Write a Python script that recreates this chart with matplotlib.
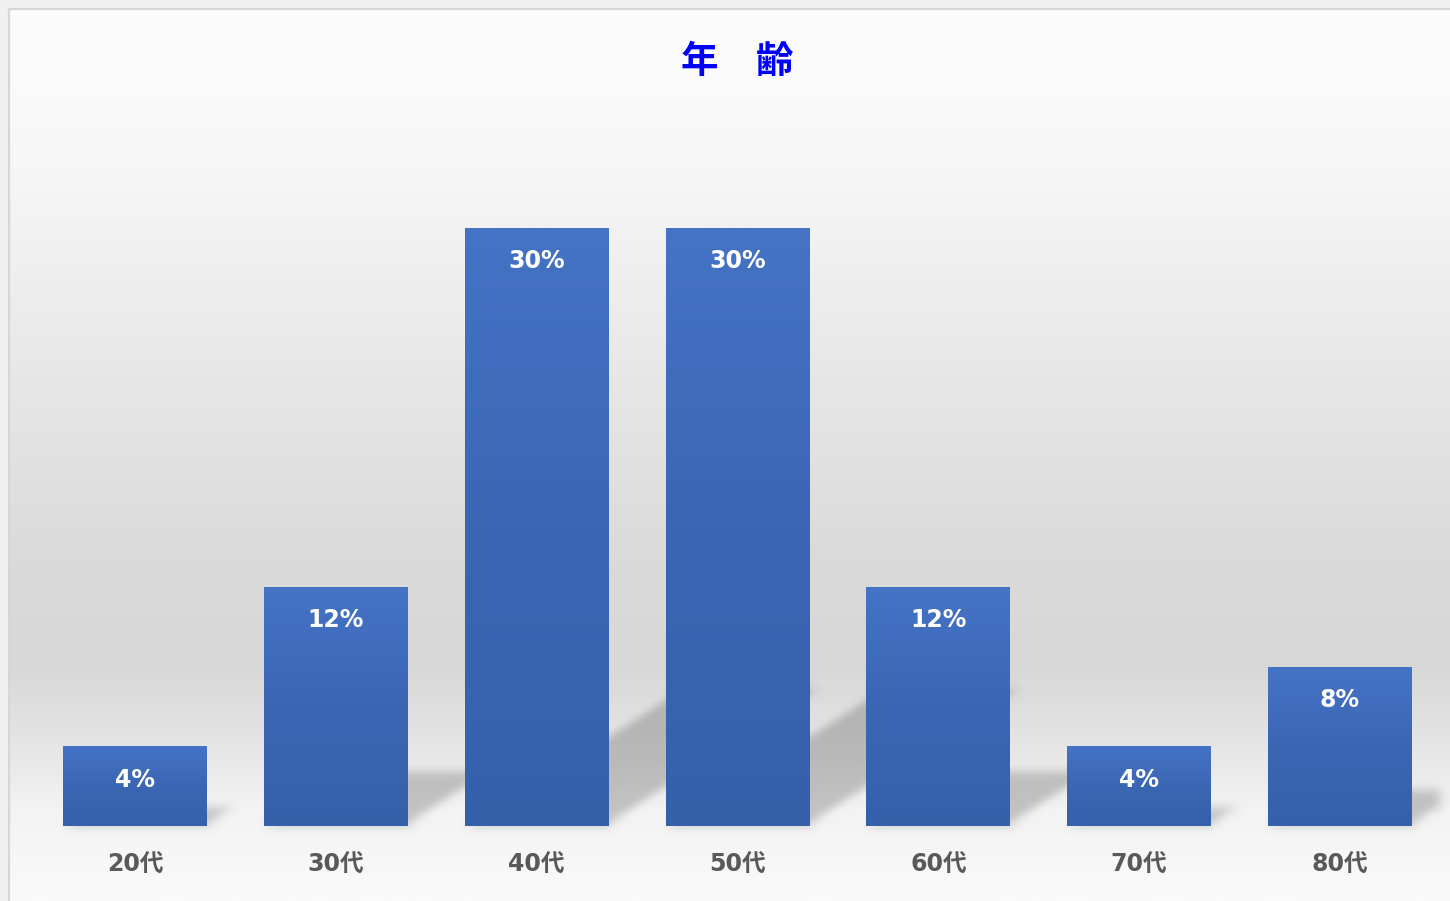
import numpy as np
import matplotlib
matplotlib.use("Agg")
import matplotlib.pyplot as plt
from matplotlib.patches import Polygon
from matplotlib.colors import LinearSegmentedColormap

plt.rcParams['font.family'] = ['Noto Sans CJK JP', 'DejaVu Sans']

# ---- data ----
categories = ['20代', '30代', '40代', '50代', '60代', '70代', '80代']
values = [4, 12, 30, 30, 12, 4, 8]
value_labels = ['4%', '12%', '30%', '30%', '12%', '4%', '8%']
title = '年　齢'

W, H = 1450, 901
fig = plt.figure(figsize=(W / 100, H / 100), dpi=100)
fig.patch.set_facecolor('#f0f0f0')

# chart-area background with vertical gradient
bg = fig.add_axes([9 / W, 0, 1 - 9 / W, (H - 9) / H], zorder=0)
bg.set_axis_off()
stops = [(0.0, '#fcfcfc'), (0.07, '#fbfbfb'), (0.2, '#f5f5f5'), (0.38, '#e9e9e9'),
         (0.62, '#dadada'), (0.74, '#d8d8d8'), (0.82, '#e4e4e4'), (0.9, '#f3f3f3'),
         (1.0, '#fafafa')]
bg_cmap = LinearSegmentedColormap.from_list('bg', stops)
grad = np.linspace(0, 1, 512).reshape(-1, 1)
bg.imshow(grad, cmap=bg_cmap, aspect='auto', extent=(0, 1, 1, 0), interpolation='bicubic')
bg.set_xlim(0, 1)
bg.set_ylim(1, 0)
# border of chart area
fig.add_artist(plt.Line2D([8.5 / W, 8.5 / W], [0, (H - 8.5) / H], color='#d6d6d6', lw=1.6))
fig.add_artist(plt.Line2D([8.5 / W, 1], [(H - 8.5) / H, (H - 8.5) / H], color='#d6d6d6', lw=1.6))

# main axes
left_px, right_px, base_px = 34.6, 1440.4, 826
ymax = 35
px_per_unit = 598 / 30
top_px = base_px - ymax * px_per_unit
ax = fig.add_axes([left_px / W, (H - base_px) / H, (right_px - left_px) / W,
                   (base_px - top_px) / H], zorder=1)
ax.patch.set_alpha(0)
ax.set_xlim(-0.5, len(categories) - 0.5)
ax.set_ylim(0, ymax)
for s in ax.spines.values():
    s.set_visible(False)
ax.set_yticks([])

x = np.arange(len(categories))
width = 0.717


def blur_filter(im, dpi):
    pad = 18
    sigma = 5.0
    a = np.pad(im, [(pad, pad), (pad, pad), (0, 0)], 'constant')
    k = np.exp(-0.5 * (np.arange(-pad, pad + 1) / sigma) ** 2)
    k /= k.sum()
    out = np.zeros_like(a)
    for i, kv in enumerate(k):
        out += kv * np.roll(a, i - pad, axis=0)
    out2 = np.zeros_like(out)
    for i, kv in enumerate(k):
        out2 += kv * np.roll(out, i - pad, axis=1)
    return out2, -pad, -pad


# perspective shadows (derived from bar geometry)
sx, sy = 0.0352, 0.227
for xi, v in zip(x, values):
    x0, x1 = xi - width / 2, xi + width / 2
    poly = Polygon([(x0, 0), (x1, 0), (x1 + sx * v, sy * v), (x0 + sx * v, sy * v)],
                   closed=True, facecolor=(0, 0, 0, 0.2), edgecolor='none', zorder=1)
    poly.set_agg_filter(blur_filter)
    ax.add_patch(poly)

bars = ax.bar(x, values, width=width, color='#3d68b6', zorder=3, linewidth=0)
bar_cmap = LinearSegmentedColormap.from_list('bar', ['#3560aa', '#3b66b4', '#4573c5'])
g = np.linspace(0, 1, 256).reshape(-1, 1)
for b in bars:
    bx, by, bw, bh = b.get_x(), b.get_y(), b.get_width(), b.get_height()
    im = ax.imshow(g, cmap=bar_cmap, origin='lower', aspect='auto',
                   extent=(bx, bx + bw, by, by + bh), zorder=4)
    im.set_clip_path(b)
ax.set_xlim(-0.5, len(categories) - 0.5)
ax.set_ylim(0, ymax)

label_family = ['DejaVu Sans', 'Noto Sans CJK JP']
for xi, v, lab in zip(x, values, value_labels):
    ax.annotate(lab, (xi, v), xytext=(0, -24), textcoords='offset points',
                ha='center', va='center', color='white', fontsize=17,
                fontweight='bold', family=label_family, zorder=5)

ax.set_xticks(x)
ax.set_xticklabels(categories, fontsize=17, fontweight='bold', color='#595959',
                   family=label_family)
ax.tick_params(axis='x', length=0, pad=19.5)

fig.text(737 / W, 1 - 61 / H, title, ha='center', va='center', fontsize=27,
         color='#0000ff', fontweight='bold')

fig.savefig('out.png', dpi=100, facecolor=fig.get_facecolor())
